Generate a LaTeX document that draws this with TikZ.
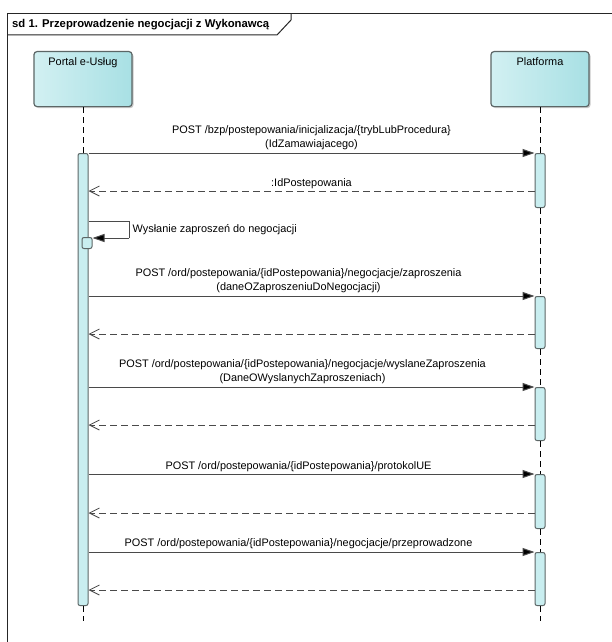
\documentclass[tikz,border=0pt]{standalone}
\usepackage{fontspec}
\setmainfont{Liberation Sans}
\usetikzlibrary{arrows.meta,shadows}
\definecolor{actfill}{HTML}{C9EEF0}
\definecolor{boxl}{HTML}{D2F0F2}
\definecolor{boxr}{HTML}{A8E0E4}
\definecolor{edgec}{HTML}{5C6666}
\definecolor{msgc}{HTML}{4A4A4A}
\tikzset{
  lbl/.style={font=\fontsize{10.9}{14}\selectfont, align=center, inner sep=1.5pt, text=black},
  lifebox/.style={draw=edgec, line width=1.2pt, rounded corners=3pt, left color=boxl, right color=boxr,
     minimum width=98pt, minimum height=55pt, anchor=north, inner sep=0pt,
     drop shadow={shadow xshift=1.5pt, shadow yshift=-1.5pt, fill=black!35, opacity=0.6}},
  act/.style={draw=edgec, fill=actfill, line width=1pt, rounded corners=2pt, minimum width=10pt, inner sep=0pt, anchor=north},
  lifeline/.style={draw=black, line width=0.8pt, dash pattern=on 6pt off 4pt},
  msg/.style={draw=msgc, line width=1pt, -{Triangle[length=12pt,width=8pt,fill=black]}},
  ret/.style={draw=msgc, line width=0.8pt, dash pattern=on 7pt off 4pt, -{Straight Barb[length=10pt,width=10pt,line width=0.8pt]}},
}
\begin{document}
\begin{tikzpicture}[x=1pt,y=-1pt]
\useasboundingbox (0,0) rectangle (612,642);
\fill[white] (0,0) rectangle (612,642);
% frame
\draw[black!85, line width=1pt] (7,660) -- (7,14) -- (620,14);
\draw[black!85, line width=1pt] (7,35) -- (277,35) -- (291,20) -- (291,14);
\node[anchor=west, font=\fontsize{11.3}{12}\selectfont\bfseries, inner sep=0pt] (title) at (12,25) {sd 1. Przeprowadzenie negocjacji z Wykonawcą};
% lifeline heads
\node[lifebox, label={[anchor=north, inner sep=0pt, yshift=-5pt, lbl]north:{Portal e-Usług}}] (portal) at (83,51) {};
\node[lifebox, label={[anchor=north, inner sep=0pt, yshift=-5pt, lbl]north:{Platforma}}] (plat) at (540,51) {};
% activations
\node[act, minimum height=452pt] (aP) at (83,153) {};
\node[act, minimum height=54pt] (q1) at (540,153) {};
\node[act, minimum height=52pt] (q2) at (540,296) {};
\node[act, minimum height=53pt] (q3) at (540,387) {};
\node[act, minimum height=54pt] (q4) at (540,474) {};
\node[act, minimum height=53pt] (q5) at (540,552) {};
\node[draw=edgec, fill=actfill, line width=1pt, rounded corners=2pt, minimum width=10pt, minimum height=11pt, inner sep=0pt, anchor=north] (self) at (87,237) {};
% lifelines
\draw[lifeline] (portal.south) -- (aP.north);
\draw[lifeline] (aP.south) -- ++(0,15);
\draw[lifeline] (plat.south) -- (q1.north);
\draw[lifeline] (q1.south) -- (q2.north);
\draw[lifeline] (q2.south) -- (q3.north);
\draw[lifeline] (q3.south) -- (q4.north);
\draw[lifeline] (q4.south) -- (q5.north);
\draw[lifeline] (q5.south) -- ++(0,15);
% messages
\draw[msg] (aP.east |- 0,153) -- (q1.north west) node[pos=0.5, above, lbl, yshift=1pt] {POST /bzp/postepowania/inicjalizacja/\{trybLubProcedura\}\\(IdZamawiajacego)};
\draw[ret] (q1.west |- 0,191) -- (aP.east |- 0,191) node[pos=0.5, above, lbl] {:IdPostepowania};
\coordinate (s1) at (129,221);
\draw[msgc, line width=1pt] (aP.east |- s1) -- (s1) -- (129,238);
\draw[msg] (129,238) -- (self.east |- 0,238);
\node[lbl, anchor=west] (selflbl) at (131,230) {Wysłanie zaproszeń do negocjacji};
\draw[msg] (aP.east |- 0,296) -- (q2.north west) node[pos=0.5, above, lbl, xshift=-13pt, yshift=1pt] {POST /ord/postepowania/\{idPostepowania\}/negocjacje/zaproszenia\\(daneOZaproszeniuDoNegocjacji)};
\draw[ret] (q2.west |- 0,334) -- (aP.east |- 0,334);
\draw[msg] (aP.east |- 0,387) -- (q3.north west) node[pos=0.5, above, lbl, xshift=-9pt, yshift=1pt] {POST /ord/postepowania/\{idPostepowania\}/negocjacje/wyslaneZaproszenia\\(DaneOWyslanychZaproszeniach)};
\draw[ret] (q3.west |- 0,425) -- (aP.east |- 0,425);
\draw[msg] (aP.east |- 0,474) -- (q4.north west) node[pos=0.5, above, lbl, xshift=-13pt] {POST /ord/postepowania/\{idPostepowania\}/protokolUE};
\draw[ret] (q4.west |- 0,513) -- (aP.east |- 0,513);
\draw[msg] (aP.east |- 0,552) -- (q5.north west) node[pos=0.5, above, lbl, xshift=-13pt, yshift=1pt] {POST /ord/postepowania/\{idPostepowania\}/negocjacje/przeprowadzone};
\draw[ret] (q5.west |- 0,590) -- (aP.east |- 0,590);
\end{tikzpicture}
\end{document}
